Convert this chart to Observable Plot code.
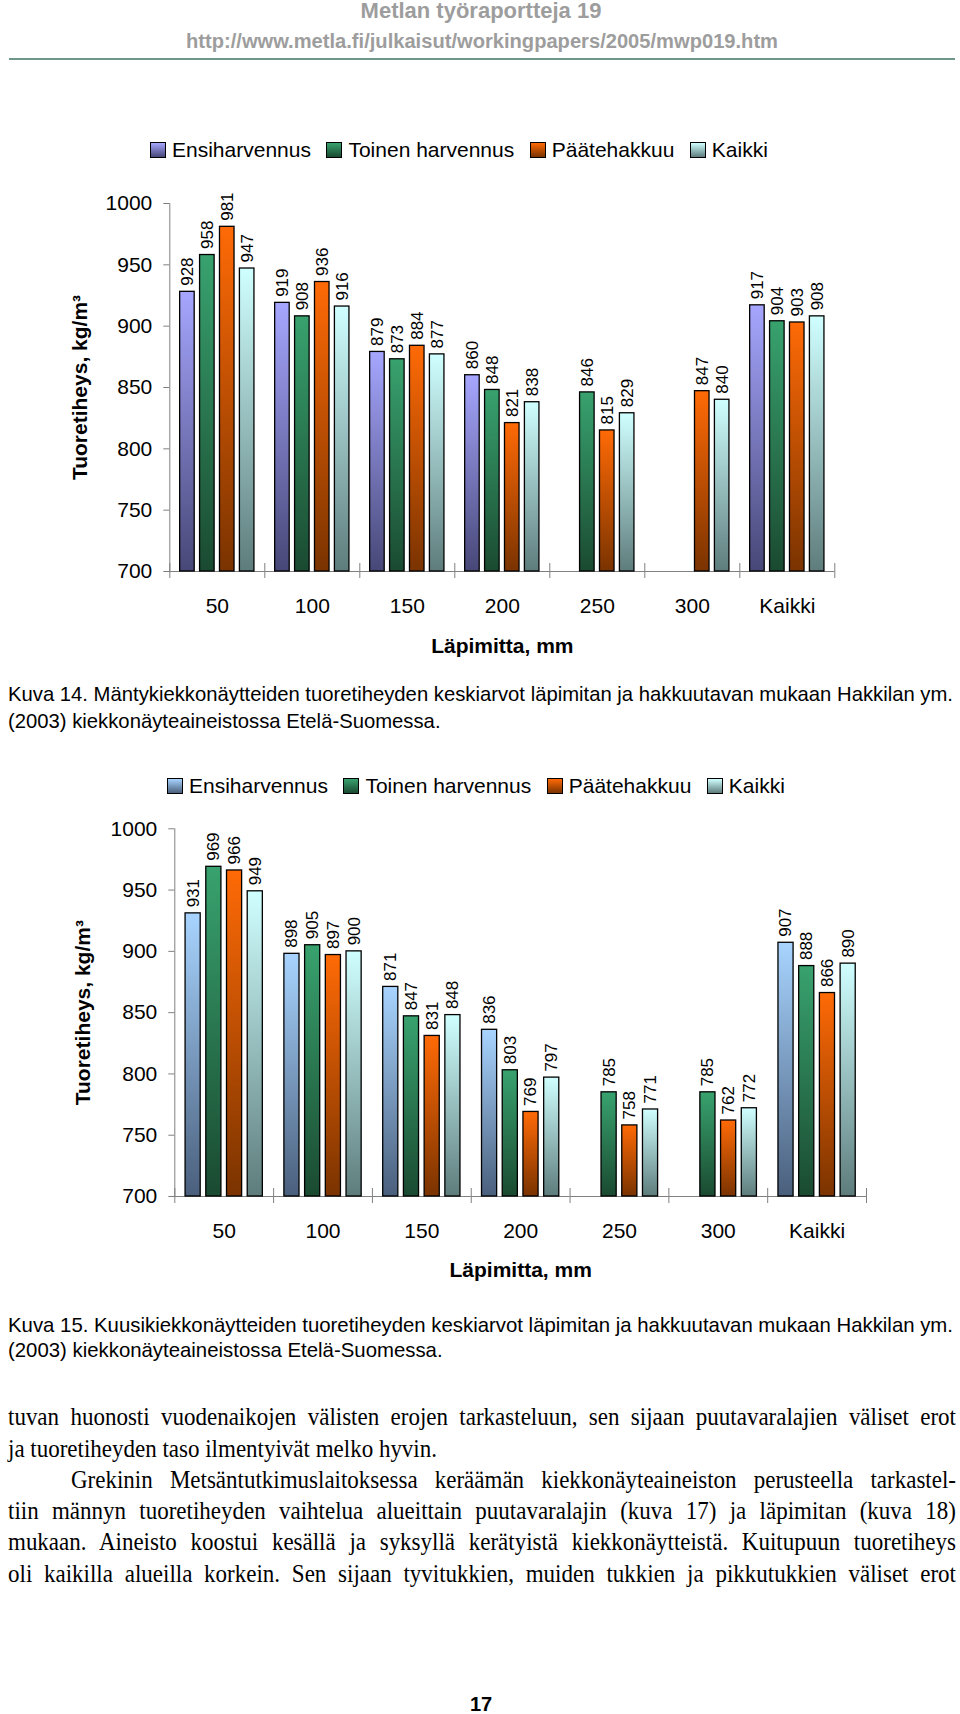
<!DOCTYPE html>
<html><head><meta charset="utf-8">
<script src="https://cdn.jsdelivr.net/npm/d3@7"></script>
<script src="https://cdn.jsdelivr.net/npm/@observablehq/plot@0.6"></script>
<style>
html,body{margin:0;padding:0;background:#fff;}
body{width:960px;height:1714px;position:relative;overflow:hidden;font-family:"Liberation Sans",Arial,sans-serif;color:#000;}
.abs{position:absolute;white-space:nowrap;}
.fit{display:inline-block;white-space:nowrap;transform-origin:0 50%;}
.legend{position:absolute;display:flex;align-items:center;font-size:21px;line-height:24px;white-space:nowrap;}
.legend .item{display:flex;align-items:center;margin-right:15.5px;}
.legend .sw{width:14px;height:14px;border:1px solid #000;margin-right:6px;}
.cap{font-family:"Liberation Sans",Arial,sans-serif;font-size:21px;line-height:26px;}
.body{font-family:"Liberation Serif","Times New Roman",serif;font-size:25px;line-height:30px;}
</style></head><body>
<script>
// ---- data ----
const categories = ["50", "100", "150", "200", "250", "300", "Kaikki"];
const seriesNames = ["Ensiharvennus", "Toinen harvennus", "Päätehakkuu", "Kaikki"];
const yTicks = [700, 750, 800, 850, 900, 950, 1000];

// Kuva 14 (mänty)
const manty_ensiharvennus = [928, 919, 879, 860, null, null, 917];
const manty_toinen = [958, 908, 873, 848, 846, null, 904];
const manty_paatehakkuu = [981, 936, 884, 821, 815, 847, 903];
const manty_kaikki = [947, 916, 877, 838, 829, 840, 908];

// Kuva 15 (kuusi)
const kuusi_ensiharvennus = [931, 898, 871, 836, null, null, 907];
const kuusi_toinen = [969, 905, 847, 803, 785, 785, 888];
const kuusi_paatehakkuu = [966, 897, 831, 769, 758, 762, 866];
const kuusi_kaikki = [949, 900, 848, 797, 771, 772, 890];

const colors1 = [["#a6a6ff", "#474777"], ["#38a26e", "#1a4a31"], ["#ff6a06", "#7a3300"], ["#d0ffff", "#5e7c7c"]];
const colors2 = [["#a8d4ff", "#4a5f7c"], ["#38a26e", "#1a4a31"], ["#ff6a06", "#7a3300"], ["#d0ffff", "#5e7c7c"]];

const yLabel = "Tuoretiheys, kg/m³";
const xLabel = "Läpimitta, mm";

const caption1 = ["Kuva 14. Mäntykiekkonäytteiden tuoretiheyden keskiarvot läpimitan ja hakkuutavan mukaan Hakkilan ym.", "(2003) kiekkonäyteaineistossa Etelä-Suomessa."];
const caption2 = ["Kuva 15. Kuusikiekkonäytteiden tuoretiheyden keskiarvot läpimitan ja hakkuutavan mukaan Hakkilan ym.", "(2003) kiekkonäyteaineistossa Etelä-Suomessa."];
const bodyLines = [
  "tuvan huonosti vuodenaikojen välisten erojen tarkasteluun, sen sijaan puutavaralajien väliset erot",
  "ja tuoretiheyden taso ilmentyivät melko hyvin.",
  "Grekinin Metsäntutkimuslaitoksessa keräämän kiekkonäyteaineiston perusteella tarkastel-",
  "tiin männyn tuoretiheyden vaihtelua alueittain puutavaralajin (kuva 17) ja läpimitan (kuva 18)",
  "mukaan. Aineisto koostui kesällä ja syksyllä kerätyistä kiekkonäytteistä. Kuitupuun tuoretiheys",
  "oli kaikilla alueilla korkein. Sen sijaan tyvitukkien, muiden tukkien ja pikkutukkien väliset erot"
];

// ---- helpers ----
function addDiv(cls, text, left, top, style) {
  const d = document.createElement("div");
  d.className = "abs " + cls;
  d.style.left = left + "px";
  d.style.top = top + "px";
  Object.assign(d.style, style || {});
  const s = document.createElement("span");
  s.className = "fit";
  s.textContent = text;
  d.appendChild(s);
  document.body.appendChild(d);
  return s;
}
function natural(span) { return span.getBoundingClientRect().width; }

function drawLegend(colors, left, top) {
  const lg = document.createElement("div");
  lg.className = "legend";
  lg.style.left = left + "px";
  lg.style.top = top + "px";
  seriesNames.forEach((s, j) => {
    const it = document.createElement("div");
    it.className = "item";
    const sw = document.createElement("div");
    sw.className = "sw";
    sw.style.background = `linear-gradient(to bottom, ${colors[j][0]}, ${colors[j][1]})`;
    const t = document.createElement("span");
    t.textContent = s;
    it.appendChild(sw); it.appendChild(t);
    lg.appendChild(it);
  });
  document.body.appendChild(lg);
}

function drawChart({id, values, colors, top, height, mt, mb, ml, mr, xLabelOffset, yLabelOffset}) {
  const rows = [];
  categories.forEach((cat, i) => seriesNames.forEach((s, j) => {
    const v = values[j][i];
    if (v != null) rows.push({cat, series: s, value: v, si: j});
  }));
  const plotH = height - mt - mb;
  const axisColor = "#808080";
  const svg = Plot.plot({
    width: 960, height,
    marginTop: mt, marginBottom: mb, marginLeft: ml, marginRight: mr,
    style: {fontFamily: '"Liberation Sans", Arial, sans-serif', fontSize: "21px", background: "none", color: "#000", overflow: "visible"},
    fx: {domain: categories, padding: 0, round: false, axis: null},
    x: {domain: seriesNames, paddingInner: 0.27, paddingOuter: 0.52, round: false, axis: null},
    y: {domain: [700, 1000], axis: null},
    color: {type: "identity"},
    marks: [
      Plot.ruleY([700], {stroke: axisColor, strokeWidth: 1}),
      Plot.frame({anchor: "left", facetAnchor: "left", stroke: axisColor}),
      Plot.frame({anchor: "left", stroke: axisColor, insetTop: plotH - 8, insetBottom: -6}),
      Plot.frame({anchor: "right", facetAnchor: "right", stroke: axisColor, insetTop: plotH - 8, insetBottom: -6}),
      Plot.barY(rows, {fx: "cat", x: "series", y1: 700, y2: "value", fill: d => `url(#${id}-g${d.si})`, stroke: "#000", strokeWidth: 1.3}),
      Plot.text(rows, {fx: "cat", x: "series", y: "value", text: d => String(d.value), rotate: -90, textAnchor: "start", lineAnchor: "middle", dy: -6, fontSize: 17, fill: "#000"}),
      Plot.axisY({ticks: yTicks, tickFormat: "d", tickSize: 6, tickPadding: 11.5, fontSize: 21, stroke: axisColor, fill: "#000", label: null}),
      Plot.axisY({ticks: [], tickSize: 0, label: yLabel, labelAnchor: "center", labelArrow: "none", labelOffset: yLabelOffset, fontSize: 21, fontWeight: "bold", fill: "#000"}),
      Plot.axisFx({anchor: "bottom", tickSize: 0, tickPadding: 27, fontSize: 21, fill: "#000", label: null}),
      Plot.axisFx({anchor: "bottom", ticks: [], tickSize: 0, label: xLabel, labelAnchor: "center", labelArrow: "none", labelOffset: xLabelOffset, fontSize: 21, fontWeight: "bold", fill: "#000"})
    ]
  });
  const defs = d3.select(svg).insert("defs", ":first-child");
  colors.forEach((c, j) => {
    const g = defs.append("linearGradient").attr("id", `${id}-g${j}`)
      .attr("x1", 0).attr("y1", 0).attr("x2", 0).attr("y2", 1);
    g.append("stop").attr("offset", 0).attr("stop-color", c[0]);
    g.append("stop").attr("offset", 1).attr("stop-color", c[1]);
  });
  svg.style.position = "absolute";
  svg.style.left = "0px";
  svg.style.top = top + "px";
  document.body.appendChild(svg);
}

// ---- header ----
addDiv("", "Metlan työraportteja 19", 0, -1.5, {width: "962px", textAlign: "center", font: 'bold 22px/24px "Liberation Sans", Arial, sans-serif', color: "#9d9d9d"});
const h2 = addDiv("", "http://www.metla.fi/julkaisut/workingpapers/2005/mwp019.htm", 186, 28.5, {font: 'bold 20px/24px "Liberation Sans", Arial, sans-serif', color: "#9d9d9d"});
{ const w = natural(h2); h2.style.transform = `scaleX(${592 / w})`; }
const hr = document.createElement("div");
hr.className = "abs";
Object.assign(hr.style, {left: "9px", top: "58px", width: "946px", height: "2px", background: "#6f968a"});
document.body.appendChild(hr);

// ---- chart 1 ----
drawLegend(colors1, 150, 138);
drawChart({id: "c1", values: [manty_ensiharvennus, manty_toinen, manty_paatehakkuu, manty_kaikki], colors: colors1,
  top: 170, height: 500, mt: 33, mb: 99, ml: 169.3, mr: 125.7, xLabelOffset: 81.6, yLabelOffset: 98});

// ---- chart 2 ----
drawLegend(colors2, 167, 774);
drawChart({id: "c2", values: [kuusi_ensiharvennus, kuusi_toinen, kuusi_paatehakkuu, kuusi_kaikki], colors: colors2,
  top: 800, height: 490, mt: 28.3, mb: 94, ml: 174.3, mr: 94, xLabelOffset: 80.1, yLabelOffset: 99.5});

// ---- captions ----
function caption(lines, y1, y2) {
  const a = addDiv("cap", lines[0], 8, y1 - 13);
  const b = addDiv("cap", lines[1], 8, y2 - 13);
  const k = (953 - 8) / natural(a);
  a.style.transform = `scaleX(${k})`;
  b.style.transform = `scaleX(${k})`;
}
caption(caption1, 694, 721);
caption(caption2, 1325, 1350);

// ---- body text ----
const bodyY = [1417, 1449, 1479.5, 1511, 1542, 1573.5];
const bodyLeft = [8, 8, 71, 8, 8, 8];
const justified = [true, false, true, true, true, true];
const spans = bodyLines.map((t, i) => addDiv("body", t, bodyLeft[i], bodyY[i] - 15));
const kBody = (437 - 8) / natural(spans[1]);
spans.forEach((s, i) => {
  const w = natural(s);
  if (justified[i]) {
    const target = 956 - bodyLeft[i];
    const nsp = (bodyLines[i].match(/ /g) || []).length;
    if (kBody * w < target) {
      s.style.wordSpacing = ((target / kBody - w) / nsp) + "px";
      s.style.transform = `scaleX(${kBody})`;
    } else {
      s.style.transform = `scaleX(${target / w})`;
    }
  } else {
    s.style.transform = `scaleX(${kBody})`;
  }
});

// ---- page number ----
addDiv("", "17", 0, 1691.5, {width: "962px", textAlign: "center", font: 'bold 20px/24px "Liberation Sans", Arial, sans-serif'});
</script>
</body></html>
